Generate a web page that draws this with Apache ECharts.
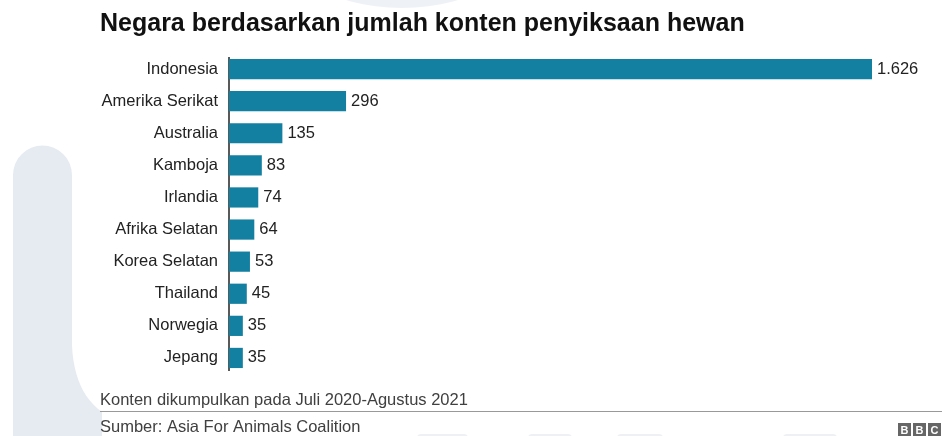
<!DOCTYPE html>
<html>
<head>
<meta charset="utf-8">
<script src="https://cdn.jsdelivr.net/npm/echarts@6/dist/echarts.min.js"></script>
<style>html,body{margin:0;padding:0;background:#fff}#c{width:942px;height:436px}</style>
</head>
<body>
<div id="c"></div>
<script>
const categories = ["Indonesia","Amerika Serikat","Australia","Kamboja","Irlandia","Afrika Selatan","Korea Selatan","Thailand","Norwegia","Jepang"];
const values = [1626,296,135,83,74,64,53,45,35,35];
const titleText = "Negara berdasarkan jumlah konten penyiksaan hewan";
const noteText = "Konten dikumpulkan pada Juli 2020-Agustus 2021";
const sourceText = "Sumber: Asia For Animals Coalition";

const fmt = v => v.toLocaleString('de-DE');
const FONT = "'Liberation Sans', Arial, sans-serif";

// decorative watermark outline (left stroke of a "U")
function watermarkPts(){
  const pts = [];
  for (let i = 0; i <= 16; i++) { const a = Math.PI + Math.PI * i / 16; pts.push([42.5 + 29.5*Math.cos(a), 175 + 29.5*Math.sin(a)]); }
  pts.push([72, 345]);
  for (let i = 1; i <= 12; i++) { const t = i/12; const x = (1-t)*(1-t)*72 + 2*(1-t)*t*74 + t*t*102; const y = (1-t)*(1-t)*345 + 2*(1-t)*t*392 + t*t*412; pts.push([x,y]); }
  pts.push([102, 436]); pts.push([13, 436]);
  return pts;
}
function arcPts(){
  const pts = [];
  for (let i = 0; i <= 24; i++) { const a = Math.PI * i / 24; pts.push([402 + 102*Math.cos(a), -40 + 48*Math.sin(a)]); }
  return pts;
}

const chart = echarts.init(document.getElementById('c'), null, {renderer:'canvas'});
const bottomBits = [[417,51],[528,44],[617,46],[783,54]].map(([x,w]) => (
  {type:'rect', z:-10, silent:true, shape:{x:x, y:434, width:w, height:8, r:4}, style:{fill:'#eef0f3'}}));
chart.setOption({
  animation:false,
  backgroundColor:'#fff',
  textStyle:{fontFamily:FONT},
  grid:{left:229, right:70, top:53, bottom:62, containLabel:false},
  xAxis:{type:'value', min:0, max:1626, show:false},
  yAxis:{type:'category', data:categories, inverse:true,
    axisLine:{show:false},
    axisTick:{show:false},
    axisLabel:{color:'#222', fontSize:16.5, fontFamily:FONT, margin:11}},
  series:[{type:'bar', data:values, barCategoryGap:'37%',
    itemStyle:{color:'#1380a1'},
    label:{show:true, position:'right', distance:5, color:'#222', fontSize:16.5, fontFamily:FONT,
      formatter:p=>fmt(p.value)}}],
  graphic:{elements:[
    {type:'polygon', z:-10, silent:true, shape:{points:watermarkPts()}, style:{fill:'#e6ebf2'}},
    {type:'polygon', z:-10, silent:true, shape:{points:arcPts()}, style:{fill:'#eef1f6'}},
    ...bottomBits,
    {type:'line', shape:{x1:229, y1:57, x2:229, y2:371}, style:{stroke:'#222', lineWidth:1.5}},
    {type:'text', left:100, top:12, style:{text:titleText, font:"bold 25px "+FONT, fill:'#111'}},
    {type:'text', left:100, top:392, style:{text:noteText, font:"16.5px "+FONT, fill:'#404040'}},
    {type:'line', shape:{x1:100, y1:411.5, x2:942, y2:411.5}, style:{stroke:'#999', lineWidth:1.2}},
    {type:'text', left:100, top:419, style:{text:sourceText, font:"16.5px "+FONT, fill:'#404040'}},
    {type:'group', left:898, top:423, children:[
      {type:'rect', shape:{x:0,y:0,width:13,height:14}, style:{fill:'#666'}},
      {type:'rect', shape:{x:15,y:0,width:13,height:14}, style:{fill:'#666'}},
      {type:'rect', shape:{x:30,y:0,width:13,height:14}, style:{fill:'#666'}},
      {type:'text', x:6.5, y:7.5, style:{text:'B', font:'bold 11px '+FONT, fill:'#fff', align:'center', verticalAlign:'middle'}},
      {type:'text', x:21.5, y:7.5, style:{text:'B', font:'bold 11px '+FONT, fill:'#fff', align:'center', verticalAlign:'middle'}},
      {type:'text', x:36.5, y:7.5, style:{text:'C', font:'bold 11px '+FONT, fill:'#fff', align:'center', verticalAlign:'middle'}}
    ]}
  ]}
});
</script>
</body>
</html>
